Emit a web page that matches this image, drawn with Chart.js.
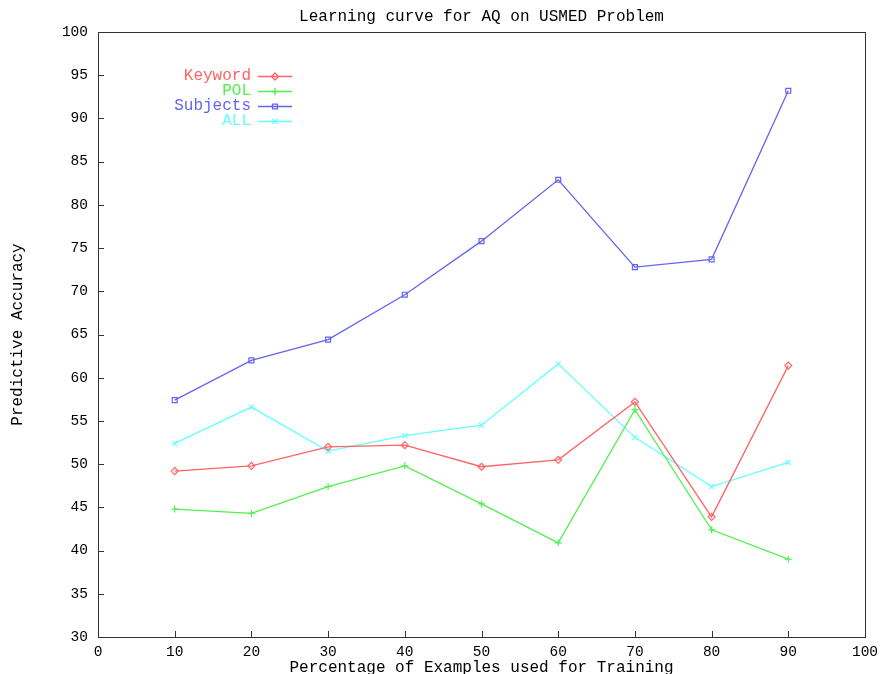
<!DOCTYPE html>
<html>
<head>
<meta charset="utf-8">
<script src="https://cdn.jsdelivr.net/npm/chart.js@4/dist/chart.umd.min.js"></script>
<style>
  html, body { margin: 0; padding: 0; background: #fff; }
  #wrap { width: 880px; height: 674px; }
</style>
</head>
<body>
<div id="wrap"><canvas id="chart"></canvas></div>
<script>
// training percentage (x) and accuracy of each run
const trainPct = [10, 20, 30, 40, 50, 60, 70, 80, 90];
const keyword  = [49.2, 49.8, 52.0, 52.2, 49.7, 50.5, 57.2, 43.9, 61.4];
const pol      = [44.8, 44.3, 47.4, 49.8, 45.4, 40.9, 56.3, 42.4, 39.0];
const subjects = [57.4, 62.0, 64.4, 69.6, 75.8, 82.9, 72.8, 73.7, 93.2];
const allFeat  = [52.4, 56.6, 51.5, 53.3, 54.5, 61.6, 53.1, 47.4, 50.2];

const seriesNames = ['Keyword', 'POL', 'Subjects', 'ALL'];
const seriesColors = ['#ff6464', '#50f050', '#6464f0', '#64ffff'];
const seriesMarks = ['rectRot', 'cross', 'rect', 'crossRot'];
const chartTitle = 'Learning curve for AQ on USMED Problem';

const FONT = "'Liberation Mono', 'DejaVu Sans Mono', monospace";

function pts(vals) {
  return vals.map((v, i) => ({ x: trainPct[i], y: v }));
}

// title, box around plot, inward ticks, and the legend in the upper left
const gnuplotLook = {
  id: 'gnuplotLook',
  afterDraw(chart) {
    const { ctx, chartArea: a, scales } = chart;
    ctx.save();
    ctx.fillStyle = '#000';
    ctx.font = '16px ' + FONT;
    ctx.textAlign = 'center';
    ctx.textBaseline = 'middle';
    ctx.fillText(chartTitle, (a.left + a.right) / 2, 17);

    ctx.strokeStyle = '#333';
    ctx.lineWidth = 1;
    ctx.strokeRect(Math.round(a.left) + 0.5, Math.round(a.top) + 0.5,
                   Math.round(a.right - a.left), Math.round(a.bottom - a.top));
    ctx.beginPath();
    scales.y.ticks.forEach(t => {
      const y = Math.round(scales.y.getPixelForValue(t.value)) + 0.5;
      ctx.moveTo(a.left, y); ctx.lineTo(a.left + 6, y);
    });
    scales.x.ticks.forEach(t => {
      const x = Math.round(scales.x.getPixelForValue(t.value)) + 0.5;
      ctx.moveTo(x, a.bottom); ctx.lineTo(x, a.bottom - 6);
    });
    ctx.stroke();

    ctx.textAlign = 'right';
    chart.data.datasets.forEach((ds, i) => {
      const y = 76 + i * 15;
      ctx.fillStyle = ds.borderColor;
      ctx.fillText(ds.label, 251, y);
      ctx.strokeStyle = ds.borderColor;
      ctx.lineWidth = 1.3;
      ctx.beginPath();
      ctx.moveTo(258, y + 0.5); ctx.lineTo(292, y + 0.5);
      ctx.stroke();
      ctx.fillStyle = 'rgba(0,0,0,0)';
      Chart.helpers.drawPoint(ctx, { pointStyle: ds.pointStyle, radius: 3.5, rotation: 0, borderWidth: 1.2 }, 275, y + 0.5);
    });
    ctx.restore();
  }
};

new Chart(document.getElementById('chart'), {
  type: 'line',
  data: {
    datasets: seriesNames.map((name, i) => ({
      label: name,
      data: pts([keyword, pol, subjects, allFeat][i]),
      borderColor: seriesColors[i],
      backgroundColor: 'transparent',
      borderWidth: 1.3,
      pointStyle: seriesMarks[i],
      pointRadius: 3.5,
      pointBorderWidth: 1.2,
      pointBorderColor: seriesColors[i],
      pointBackgroundColor: 'transparent',
      tension: 0
    }))
  },
  options: {
    responsive: true,
    maintainAspectRatio: false,
    animation: false,
    layout: { padding: { left: 0, right: 0, top: 32, bottom: 0 } },
    plugins: {
      legend: { display: false },
      tooltip: { enabled: false },
      title: { display: false }
    },
    scales: {
      x: {
        type: 'linear',
        min: 0,
        max: 100,
        ticks: { stepSize: 10, color: '#000', font: { family: FONT, size: 14.5 }, padding: 6, maxRotation: 0 },
        grid: { display: false, drawTicks: false },
        border: { display: false },
        title: {
          display: true,
          text: 'Percentage of Examples used for Training',
          color: '#000',
          font: { family: FONT, size: 16 },
          padding: { top: 0, bottom: -3 }
        },
        afterFit(s) { s.height = 37; s.paddingRight = 15; s.paddingLeft = 0; }
      },
      y: {
        min: 30,
        max: 100,
        ticks: { stepSize: 5, color: '#000', font: { family: FONT, size: 14.5 }, padding: 10 },
        grid: { display: false, drawTicks: false },
        border: { display: false },
        title: {
          display: true,
          text: 'Predictive Accuracy',
          color: '#000',
          font: { family: FONT, size: 16 },
          padding: { top: 8, bottom: 0 }
        },
        afterFit(s) { s.width = 98; s.paddingTop = 0; s.paddingBottom = 0; }
      }
    }
  },
  plugins: [gnuplotLook]
});
</script>
</body>
</html>
